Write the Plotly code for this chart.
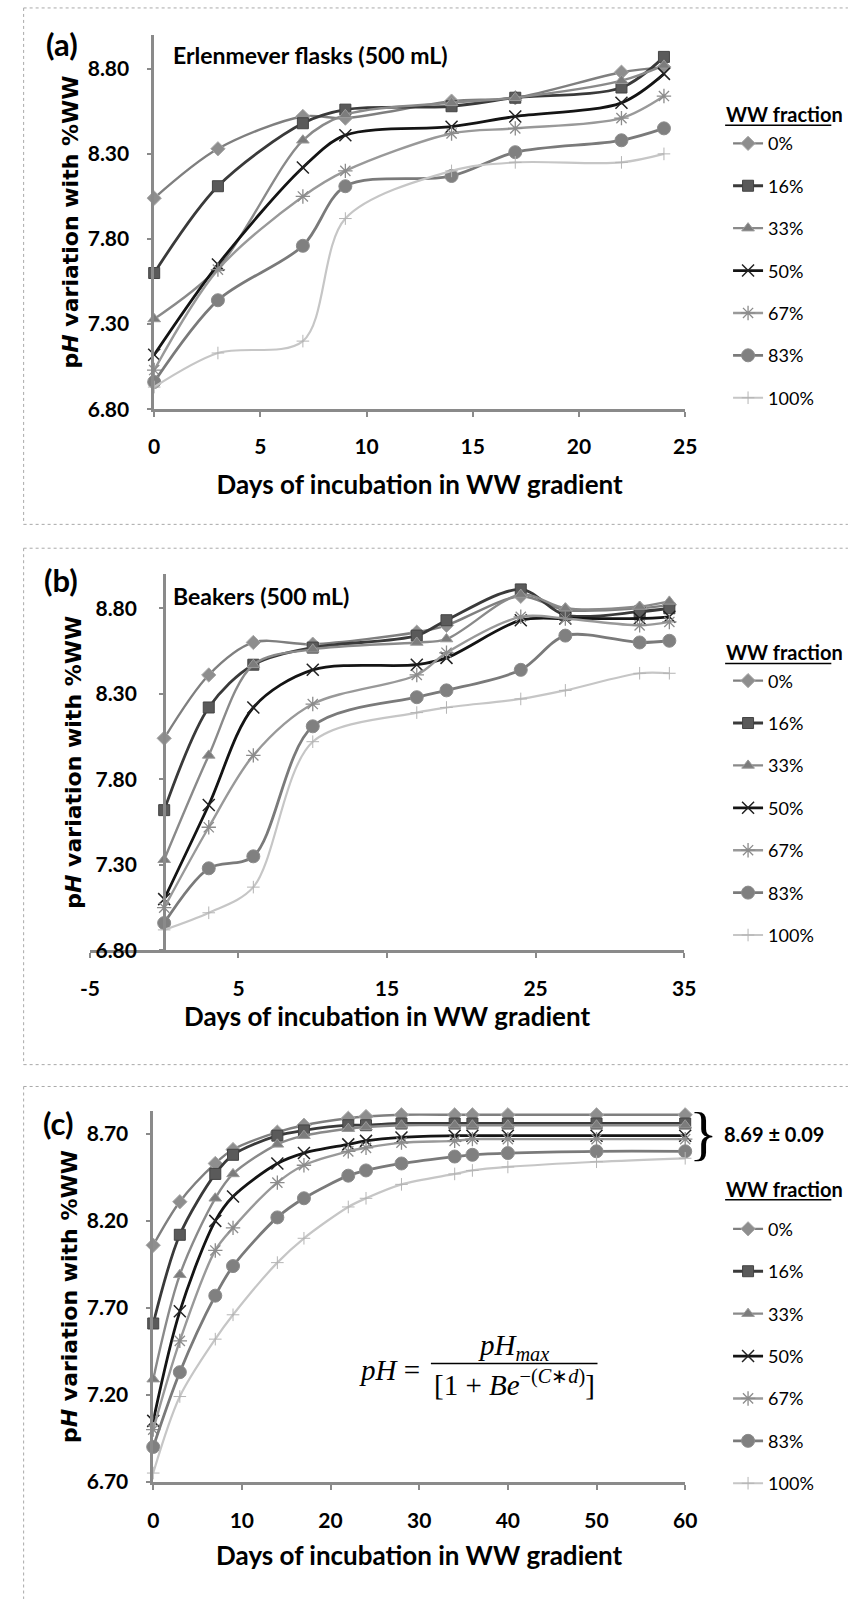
import plotly.graph_objects as go

W, H = 856, 1602


def fx(px):
    return px / W


def fy(py):
    return 1 - py / H


# ---------------- data ----------------
fractions = ["0%", "16%", "33%", "50%", "67%", "83%", "100%"]

# (a) Erlenmeyer flasks
days_a = [0, 3, 7, 9, 14, 17, 22, 24]
a_0 = [8.04, 8.33, 8.52, 8.51, 8.61, 8.63, 8.78, 8.81]
a_16 = [7.60, 8.11, 8.48, 8.56, 8.58, 8.63, 8.69, 8.87]
a_33 = [7.33, 7.63, 8.38, 8.53, 8.60, 8.63, 8.73, 8.82]
a_50 = [7.12, 7.65, 8.22, 8.41, 8.46, 8.52, 8.60, 8.77]
a_67 = [7.03, 7.62, 8.05, 8.20, 8.42, 8.45, 8.51, 8.64]
a_83 = [6.96, 7.44, 7.76, 8.11, 8.17, 8.31, 8.38, 8.45]
a_100 = [6.93, 7.13, 7.20, 7.92, 8.20, 8.25, 8.25, 8.30]

# (b) Beakers
days_b = [0, 3, 6, 10, 17, 19, 24, 27, 32, 34]
b_0 = [8.04, 8.41, 8.60, 8.59, 8.66, 8.70, 8.87, 8.79, 8.80, 8.82]
b_16 = [7.62, 8.22, 8.47, 8.57, 8.64, 8.73, 8.91, 8.76, 8.78, 8.80]
b_33 = [7.33, 7.94, 8.47, 8.56, 8.60, 8.62, 8.88, 8.80, 8.81, 8.84]
b_50 = [7.10, 7.65, 8.22, 8.44, 8.47, 8.51, 8.73, 8.74, 8.74, 8.75]
b_67 = [7.05, 7.52, 7.94, 8.24, 8.41, 8.54, 8.75, 8.74, 8.70, 8.72]
b_83 = [6.96, 7.28, 7.35, 8.11, 8.28, 8.32, 8.44, 8.64, 8.60, 8.61]
b_100 = [6.92, 7.02, 7.17, 8.02, 8.19, 8.22, 8.27, 8.32, 8.42, 8.42]

# (c) fitted model
days_c = [0, 3, 7, 9, 14, 17, 22, 24, 28, 34, 36, 40, 50, 60]
c_0 = [8.06, 8.31, 8.53, 8.61, 8.71, 8.75, 8.79, 8.80, 8.81, 8.81, 8.81, 8.81, 8.81, 8.81]
c_16 = [7.61, 8.12, 8.47, 8.58, 8.69, 8.72, 8.75, 8.75, 8.76, 8.76, 8.76, 8.76, 8.76, 8.76]
c_33 = [7.29, 7.89, 8.33, 8.47, 8.64, 8.69, 8.73, 8.74, 8.75, 8.75, 8.75, 8.75, 8.75, 8.75]
c_50 = [7.05, 7.68, 8.20, 8.34, 8.53, 8.59, 8.64, 8.66, 8.68, 8.69, 8.69, 8.69, 8.69, 8.69]
c_67 = [7.00, 7.51, 8.03, 8.16, 8.42, 8.52, 8.60, 8.62, 8.65, 8.66, 8.67, 8.67, 8.67, 8.67]
c_83 = [6.90, 7.33, 7.77, 7.94, 8.22, 8.33, 8.46, 8.49, 8.53, 8.57, 8.58, 8.59, 8.60, 8.60]
c_100 = [6.75, 7.19, 7.52, 7.66, 7.96, 8.10, 8.28, 8.33, 8.41, 8.47, 8.49, 8.51, 8.54, 8.56]

x_ticks_a = [0, 5, 10, 15, 20, 25]
x_ticks_b = [-5, 5, 15, 25, 35]
x_ticks_c = [0, 10, 20, 30, 40, 50, 60]
y_ticks_ab = [6.80, 7.30, 7.80, 8.30, 8.80]
y_ticks_c = [6.70, 7.20, 7.70, 8.20, 8.70]

panel_a = [a_0, a_16, a_33, a_50, a_67, a_83, a_100]
panel_b = [b_0, b_16, b_33, b_50, b_67, b_83, b_100]
panel_c = [c_0, c_16, c_33, c_50, c_67, c_83, c_100]

# ---------------- styles ----------------
styles = [
    dict(lc="#7f7f7f", lw=2.4, sym="diamond", ms=11, mc="#8e8e8e", mlc="#a8a8a8", mlw=1),
    dict(lc="#3a3a3a", lw=2.8, sym="square", ms=11, mc="#5a5a5a", mlc="#444444", mlw=1),
    dict(lc="#8a8a8a", lw=2.4, sym="triangle-up", ms=11, mc="#7c7c7c", mlc="#9a9a9a", mlw=1),
    dict(lc="#141414", lw=2.8, sym="x-thin", ms=12, mc="#222222", mlc="#222222", mlw=1.5),
    dict(lc="#999999", lw=2.4, sym="asterisk", ms=12, mc="#8c8c8c", mlc="#8c8c8c", mlw=1.3),
    dict(lc="#7a7a7a", lw=2.8, sym="circle", ms=13, mc="#808080", mlc="#8c8c8c", mlw=1),
    dict(lc="#c6c6c6", lw=2.2, sym="cross-thin", ms=9, mc="#b4b4b4", mlc="#b4b4b4", mlw=1),
]

TICKFONT = dict(family="Lato", size=21, color="black", weight="bold")
XTITLEFONT = dict(family="Lato", size=26, color="black", weight="bold")
YTITLEFONT = dict(family="DejaVu Sans", size=22, color="black", weight="bold")
LEGFONT = dict(family="Lato", size=18, color="black")
AXCOL = "#8a8a8a"

fig = go.Figure()

panels = [
    (days_a, panel_a, "x", "y", "legend"),
    (days_b, panel_b, "x2", "y2", "legend2"),
    (days_c, panel_c, "x3", "y3", "legend3"),
]

for days, series, xa, ya, leg in panels:
    for name, vals, st in zip(fractions, series, styles):
        fig.add_trace(go.Scatter(
            x=days, y=vals, name=name, mode="lines+markers",
            xaxis=xa, yaxis=ya, legend=leg, legendgroup=leg + name,
            line=dict(color=st["lc"], width=st["lw"], shape="spline", smoothing=0.9),
            marker=dict(symbol=st["sym"], size=st["ms"], color=st["mc"],
                        line=dict(color=st["mlc"], width=st["mlw"])),
            cliponaxis=False,
        ))

common_x = dict(showline=True, linecolor=AXCOL, linewidth=2.5, ticks="outside",
                ticklen=5, tickcolor=AXCOL, tickwidth=1.5, showgrid=False,
                zeroline=False, tickfont=TICKFONT, tickmode="array")
common_y = dict(showline=True, linecolor=AXCOL, linewidth=2.5, ticks="outside",
                ticklen=4, tickcolor=AXCOL, tickwidth=1.5, showgrid=False,
                zeroline=False, tickfont=TICKFONT, tickmode="array",
                tickformat=".2f")

ytitle = "p<i>H</i> variation with %WW"
xtitle = "Days of incubation in WW gradient"

fig.update_layout(
    width=W, height=H, margin=dict(l=0, r=0, t=0, b=0),
    paper_bgcolor="white", plot_bgcolor="white", showlegend=True,
    xaxis=dict(common_x, domain=[fx(148), fx(693)], range=[0, 25], anchor="y",
               tickvals=x_ticks_a, ticklabelstandoff=12,
               title=dict(text=xtitle, font=XTITLEFONT, standoff=19)),
    yaxis=dict(common_y, domain=[fy(412), fy(35)], range=[6.8, 9.0], anchor="x",
               tickvals=y_ticks_ab, ticklabelstandoff=14,
               title=dict(text=ytitle, font=YTITLEFONT, standoff=4)),
    xaxis2=dict(common_x, domain=[fx(82), fx(692)], range=[-5, 35], anchor="y2",
                tickvals=x_ticks_b, ticktext=[str(v) for v in x_ticks_b],
                ticklabelstandoff=13,
                title=dict(text=xtitle, font=XTITLEFONT, standoff=1)),
    yaxis2=dict(common_y, domain=[fy(957), fy(578)], range=[6.8, 9.0], anchor="free",
                position=fx(158), tickvals=y_ticks_ab, ticklabelstandoff=18,
                title=dict(text=ytitle, font=YTITLEFONT, standoff=6)),
    xaxis3=dict(common_x, domain=[fx(147), fx(693)], range=[0, 60], anchor="y3",
                tickvals=x_ticks_c, ticklabelstandoff=13,
                title=dict(text=xtitle, font=XTITLEFONT, standoff=17)),
    yaxis3=dict(common_y, domain=[fy(1492), fy(1119)], range=[6.7, 8.83], anchor="x3",
                tickvals=y_ticks_c, ticklabelstandoff=14,
                title=dict(text=ytitle, font=YTITLEFONT, standoff=4)),
)

legend_tops = {"legend": 126, "legend2": 667, "legend3": 1219}
for key, top in legend_tops.items():
    fig.layout[key] = dict(
        x=fx(737), y=fy(top), xanchor="left", yanchor="top",
        bgcolor="rgba(0,0,0,0)", font=LEGFONT, tracegroupgap=16,
        itemwidth=30,
    )


def note(text, x, y, size, family="Lato", bold=True, xanchor="center", color="black"):
    fig.add_annotation(text=text, x=fx(x), y=fy(y), xref="paper", yref="paper",
                       showarrow=False, xanchor=xanchor, yanchor="middle",
                       font=dict(family=family, size=size, color=color,
                                 weight="bold" if bold else "normal"))


# legend headings, underlined
for yt in (115, 657, 1197):
    note("WW fraction", 733, yt, 20, xanchor="left")
    fig.add_shape(type="line", xref="paper", yref="paper", x0=fx(734), x1=fx(843),
                  y0=fy(yt + 11), y1=fy(yt + 11), line=dict(color="black", width=1.5))

# panel frames (dotted)
frame = dict(color="#a9a9a9", width=1, dash="dot")
for y0, y1 in ((8, 528), (552, 1072), (1094, 1610)):
    fig.add_shape(type="line", xref="paper", yref="paper", x0=fx(14), x1=fx(860),
                  y0=fy(y0), y1=fy(y0), line=frame)
    fig.add_shape(type="line", xref="paper", yref="paper", x0=fx(14), x1=fx(14),
                  y0=fy(y0), y1=fy(y1), line=frame)
    if y1 < H:
        fig.add_shape(type="line", xref="paper", yref="paper", x0=fx(14), x1=fx(860),
                      y0=fy(y1), y1=fy(y1), line=frame)

note("(a)", 53, 44, 31)
note("(b)", 52, 584, 31)
note("(c)", 50, 1131, 31)
note("Erlenmever flasks (500 mL)", 165, 55, 23, xanchor="left")
note("Beakers (500 mL)", 165, 600, 23, xanchor="left")
note("8.69 ± 0.09", 731, 1142, 20, xanchor="left")
note("}", 712, 1141, 60, family="Liberation Serif", bold=False)

# equation
note("<i>pH</i> =", 390, 1379, 29, family="Liberation Serif", bold=False)
note("<i>pH</i><sub><i>max</i></sub>", 517, 1356, 29, family="Liberation Serif", bold=False)
note("[1 + <i>Be</i><sup>−(<i>C</i>∗<i>d</i>)</sup>]", 518, 1393, 29,
     family="Liberation Serif", bold=False)
fig.add_shape(type="line", xref="paper", yref="paper", x0=fx(432), x1=fx(603),
              y0=fy(1373), y1=fy(1373), line=dict(color="black", width=1.5))

fig.write_html("out.html")
